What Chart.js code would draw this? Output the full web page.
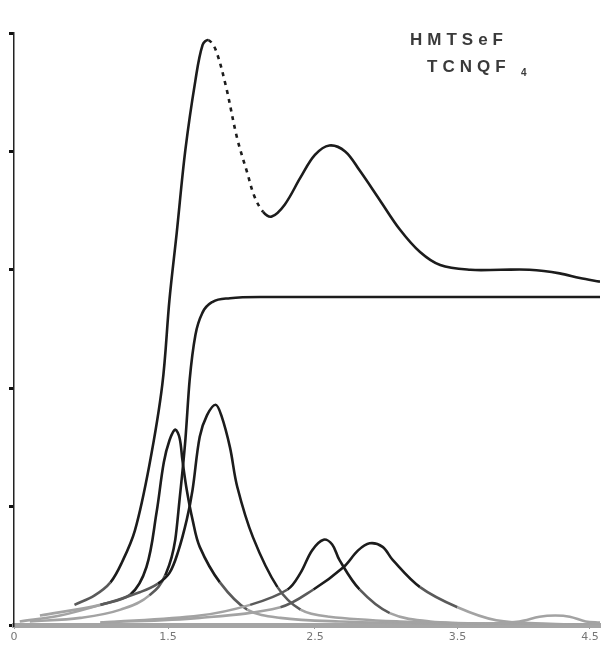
<!DOCTYPE html>
<html>
<head>
  <meta charset="UTF-8">
  <title>HMTSeF TCNQF4</title>
  <script src="https://cdn.jsdelivr.net/npm/chart.js"></script>
  <style>
    html, body { margin: 0; padding: 0; background: #fff; }
    #wrap { width: 605px; height: 645px; }
  </style>
</head>
<body>
  <div id="wrap"><canvas id="chart" width="605" height="645"></canvas></div>

  <script>
    // etiquetas del eje x (casi ilegibles) y su posicion
    const tickLabels = ['0', '1.5', '2.5', '3.5', '4.5'];
    const tickPos = [0, 1.07, 2.09, 3.08, 4.0];

    // curva envolvente (total)
    const envX = [0.42, 0.56, 0.67, 0.75, 0.84, 0.94, 1.03, 1.08, 1.13, 1.19, 1.26, 1.31, 1.35, 1.40, 1.47, 1.55, 1.62, 1.67, 1.73, 1.79, 1.88, 1.99, 2.09, 2.19, 2.30, 2.40, 2.54, 2.68, 2.82, 2.96, 3.17, 3.38, 3.58, 3.79, 3.93, 4.07];
    const envY = [0.17, 0.25, 0.36, 0.53, 0.80, 1.35, 2.03, 2.75, 3.31, 4.01, 4.60, 4.90, 4.94, 4.86, 4.56, 4.11, 3.82, 3.62, 3.49, 3.45, 3.55, 3.78, 3.97, 4.05, 4.00, 3.84, 3.59, 3.34, 3.15, 3.04, 3.00, 3.00, 3.00, 2.97, 2.93, 2.90];

    // curva en escalon (integral)
    const stepX = [0.11, 0.46, 0.74, 0.94, 1.05, 1.12, 1.15, 1.19, 1.22, 1.26, 1.31, 1.38, 1.50, 1.71, 2.13, 2.68, 3.38, 4.07];
    const stepY = [0.03, 0.06, 0.13, 0.25, 0.42, 0.72, 1.06, 1.56, 2.07, 2.45, 2.64, 2.73, 2.76, 2.77, 2.77, 2.77, 2.77, 2.77];

    // bandas individuales
    const bandAX = [0.04, 0.32, 0.60, 0.81, 0.92, 0.99, 1.04, 1.08, 1.12, 1.15, 1.17, 1.20, 1.24, 1.29, 1.43, 1.62, 1.85, 2.26, 3.03, 4.07];
    const bandAY = [0.03, 0.08, 0.17, 0.26, 0.49, 0.95, 1.37, 1.56, 1.65, 1.58, 1.39, 1.14, 0.89, 0.66, 0.36, 0.13, 0.06, 0.03, 0.01, 0];

    const bandBX = [0.18, 0.60, 0.88, 1.00, 1.08, 1.14, 1.20, 1.24, 1.29, 1.34, 1.40, 1.44, 1.50, 1.55, 1.66, 1.83, 1.99, 2.19, 2.68, 3.38, 4.07];
    const bandBY = [0.08, 0.17, 0.28, 0.35, 0.44, 0.62, 0.89, 1.14, 1.59, 1.77, 1.86, 1.77, 1.50, 1.17, 0.74, 0.32, 0.13, 0.07, 0.03, 0.01, 0];

    const bandCX = [0.60, 1.29, 1.64, 1.90, 1.99, 2.07, 2.15, 2.21, 2.26, 2.40, 2.61, 2.89, 3.38, 4.07];
    const bandCY = [0.02, 0.08, 0.17, 0.30, 0.44, 0.63, 0.72, 0.68, 0.55, 0.30, 0.10, 0.03, 0.01, 0];

    const bandDX = [0.60, 1.29, 1.85, 2.08, 2.29, 2.39, 2.47, 2.56, 2.63, 2.82, 3.08, 3.35, 3.72, 4.07];
    const bandDY = [0.02, 0.06, 0.15, 0.30, 0.49, 0.63, 0.69, 0.66, 0.55, 0.32, 0.15, 0.04, 0.01, 0];

    const bandEX = [3.24, 3.51, 3.65, 3.76, 3.86, 3.97, 4.07];
    const bandEY = [0.01, 0.03, 0.07, 0.08, 0.07, 0.03, 0.02];

    function pts(xs, ys) {
      return xs.map((x, i) => ({ x: x, y: ys[i] }));
    }

    // trazo de lapiz: negro arriba, gris cerca de la base
    const pencil = ctx => {
      const m = (ctx.p0.parsed.y + ctx.p1.parsed.y) / 2;
      return m < 0.2 ? '#a3a3a3' : (m < 0.35 ? '#5a5a5a' : '#1c1c1c');
    };

    function linea(xs, ys, extra) {
      return Object.assign({
        data: pts(xs, ys),
        borderColor: '#1c1c1c',
        borderWidth: 2.6,
        pointRadius: 0,
        fill: false,
        tension: 0.35,
        segment: { borderColor: pencil }
      }, extra || {});
    }

    const titulo = {
      id: 'titulo',
      afterDraw(chart) {
        const c = chart.ctx;
        c.save();
        c.fillStyle = '#3a3a3a';
        c.font = 'bold 17px "Liberation Sans", Arial, sans-serif';
        c.letterSpacing = '5px';
        c.textBaseline = 'middle';
        c.fillText('HMTSeF', 410, 40);
        c.fillText('TCNQF', 427, 67);
        c.letterSpacing = '0px';
        c.font = 'bold 10px "Liberation Sans", Arial, sans-serif';
        c.fillText('4', 521, 73);
        c.restore();
      }
    };

    const ctx = document.getElementById('chart').getContext('2d');
    new Chart(ctx, {
      type: 'line',
      data: {
        datasets: [
          linea(bandEX, bandEY),
          linea(bandDX, bandDY),
          linea(bandCX, bandCY),
          linea(bandBX, bandBY),
          linea(bandAX, bandAY),
          linea(stepX, stepY, { tension: 0, cubicInterpolationMode: 'monotone' }),
          linea(envX, envY, {
            segment: {
              borderColor: pencil,
              borderDash: c => (c.p0.parsed.x >= 1.35 && c.p1.parsed.x <= 1.74) ? [4, 5] : undefined
            }
          })
        ]
      },
      options: {
        responsive: false,
        animation: false,
        layout: { padding: { top: 33, right: 5, left: 0, bottom: 0 } },
        plugins: {
          legend: { display: false },
          tooltip: { enabled: false }
        },
        scales: {
          x: {
            type: 'linear',
            min: 0,
            max: 4.07,
            afterFit: s => { s.height = 20; },
            afterBuildTicks: s => { s.ticks = tickPos.map(v => ({ value: v })); },
            border: { display: true, color: '#a5a5a5', width: 5 },
            grid: { drawOnChartArea: false, drawTicks: true, tickLength: 4, color: '#999' },
            ticks: {
              color: '#777',
              font: { size: 11, family: 'DejaVu Sans' },
              padding: 2,
              autoSkip: false,
              maxRotation: 0,
              callback: (v, i) => tickLabels[i]
            }
          },
          y: {
            type: 'linear',
            min: 0,
            max: 5,
            afterFit: s => { s.width = 14; },
            border: { display: true, color: '#222', width: 1.5, dash: [2, 5] },
            grid: { drawOnChartArea: false, drawTicks: true, tickLength: 5, color: '#111', lineWidth: 3 },
            ticks: { stepSize: 1, display: false }
          }
        }
      },
      plugins: [titulo]
    });
  </script>
</body>
</html>
